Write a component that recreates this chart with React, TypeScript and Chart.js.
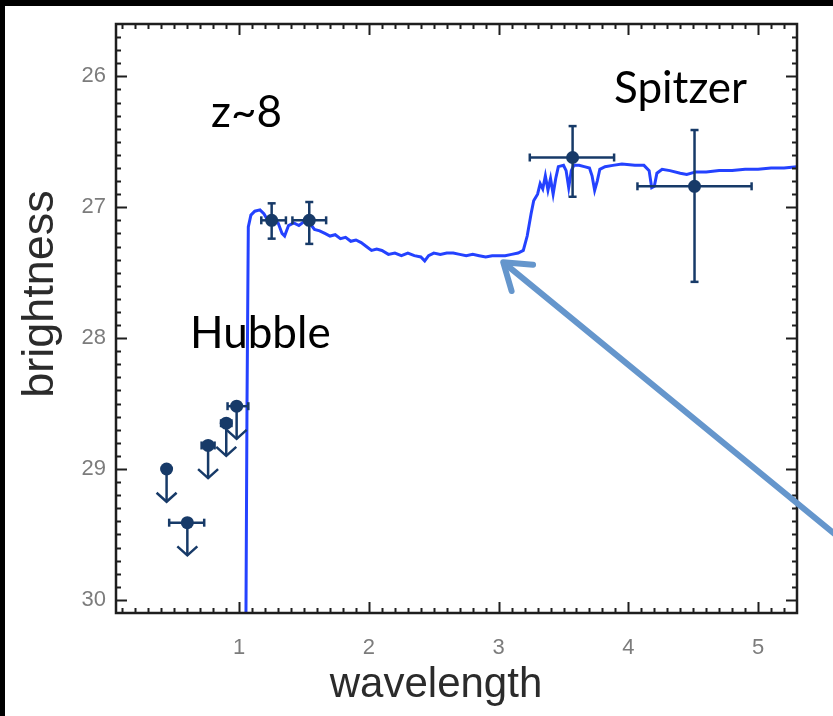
import React, { useEffect, useRef } from "react";
import { Chart, registerables } from "chart.js";

Chart.register(...registerables);

// ---- model spectrum (wavelength, brightness) ----
const modelX = [
  1.05, 1.06, 1.07, 1.09, 1.12, 1.16, 1.19, 1.22, 1.26, 1.3, 1.33, 1.35, 1.38, 1.42, 1.46, 1.5, 1.55, 1.58, 1.62,
  1.66, 1.7, 1.74, 1.78, 1.82, 1.86, 1.9, 1.94, 1.98, 2.02, 2.06, 2.1, 2.15, 2.2, 2.25, 2.3, 2.35, 2.4, 2.43, 2.46,
  2.5, 2.55, 2.6, 2.65, 2.7, 2.75, 2.8, 2.85, 2.9, 2.95, 3.0, 3.05, 3.1, 3.15, 3.19, 3.22, 3.25, 3.27, 3.3, 3.32,
  3.34, 3.36, 3.38, 3.4, 3.42, 3.44, 3.46, 3.5, 3.52, 3.54, 3.56, 3.58, 3.62, 3.66, 3.7, 3.72, 3.74, 3.76, 3.78,
  3.82, 3.88, 3.95, 4.05, 4.12, 4.16, 4.18, 4.2, 4.22, 4.26, 4.32, 4.4, 4.45, 4.52, 4.6, 4.7, 4.8, 4.9, 5.0, 5.1,
  5.2, 5.3,
];
const modelY = [
  30.5, 28.5, 27.15, 27.06, 27.03, 27.02, 27.05, 27.1, 27.08, 27.12, 27.2, 27.22, 27.14, 27.12, 27.14, 27.11, 27.13,
  27.17, 27.18, 27.2, 27.22, 27.21, 27.24, 27.23, 27.26, 27.25, 27.27, 27.3, 27.33, 27.32, 27.33, 27.36, 27.35,
  27.37, 27.35, 27.37, 27.38, 27.41, 27.37, 27.35, 27.36, 27.35, 27.35, 27.36, 27.37, 27.36, 27.37, 27.38, 27.37,
  27.37, 27.37, 27.36, 27.35, 27.33, 27.22, 27.05, 26.95, 26.9, 26.82, 26.86, 26.76, 26.87, 26.78, 26.9, 26.78,
  26.69, 26.68, 26.72, 26.85, 26.72, 26.68, 26.68, 26.69, 26.7, 26.76, 26.87, 26.8, 26.71, 26.69, 26.68, 26.67,
  26.68, 26.68, 26.72, 26.85, 26.84, 26.74, 26.71, 26.72, 26.74, 26.75, 26.73, 26.73, 26.72, 26.72, 26.71, 26.71,
  26.7, 26.7, 26.69,
];

// ---- detections (Hubble + Spitzer) ----
const detX = [1.25, 1.54, 3.57, 4.51];
const detY = [27.1, 27.1, 26.62, 26.84];
const detXLo = [1.17, 1.41, 3.24, 4.07];
const detXHi = [1.36, 1.67, 3.89, 4.95];
const detYLo = [26.97, 26.96, 26.38, 26.41];
const detYHi = [27.24, 27.28, 26.92, 27.57];

// ---- upper limits (non-detections) ----
const limX = [0.44, 0.6, 0.76, 0.9, 0.98];
const limY = [29.0, 29.41, 28.82, 28.65, 28.52];
const limXLo = [0.44, 0.46, 0.71, 0.86, 0.91];
const limXHi = [0.44, 0.73, 0.81, 0.94, 1.07];
const limDepth = [0.25, 0.25, 0.25, 0.25, 0.25];

// ---- axes ----
const xTicks = [1, 2, 3, 4, 5];
const yTicks = [26, 27, 28, 29, 30];
const xRange = [0.05, 5.3];
const yRange = [25.6, 30.1];
const xTitle = "wavelength";
const yTitle = "brightness";
const labels = ["z~8", "Spitzer", "Hubble"];
// annotation arrow: head position in data units
const arrowHead = [3.035, 27.42];
const arrowTail = [5.3, 29.26];

const NAVY = "#173a68";
const BLUE = "#2442ff";

const bgPlugin = {
  id: "bg",
  beforeDraw(chart: any) {
    const c = chart.ctx;
    c.save();
    c.fillStyle = "#000";
    c.fillRect(0, 0, chart.width, chart.height);
    c.fillStyle = "#fff";
    c.fillRect(5, 6, chart.width - 5, chart.height - 6);
    c.restore();
  },
};

const errPlugin = {
  id: "errs",
  afterDatasetDraw(chart: any, args: any) {
    if (args.index !== 0) return;
    const c = chart.ctx;
    const xs = chart.scales.x;
    const ys = chart.scales.y;
    c.save();
    c.strokeStyle = NAVY;
    c.lineWidth = 2.5;
    c.lineCap = "butt";
    const cap = 4;
    const line = (x1: number, y1: number, x2: number, y2: number) => {
      c.beginPath();
      c.moveTo(x1, y1);
      c.lineTo(x2, y2);
      c.stroke();
    };
    detX.forEach((x, i) => {
      const px = xs.getPixelForValue(x);
      const py = ys.getPixelForValue(detY[i]);
      const xl = xs.getPixelForValue(detXLo[i]);
      const xh = xs.getPixelForValue(detXHi[i]);
      const yl = ys.getPixelForValue(detYLo[i]);
      const yh = ys.getPixelForValue(detYHi[i]);
      line(xl, py, xh, py);
      line(xl, py - cap, xl, py + cap);
      line(xh, py - cap, xh, py + cap);
      line(px, yl, px, yh);
      line(px - cap, yl, px + cap, yl);
      line(px - cap, yh, px + cap, yh);
    });
    limX.forEach((x, i) => {
      const px = xs.getPixelForValue(x);
      const py = ys.getPixelForValue(limY[i]);
      const xl = xs.getPixelForValue(limXLo[i]);
      const xh = xs.getPixelForValue(limXHi[i]);
      const pe = ys.getPixelForValue(limY[i] + limDepth[i]);
      if (xh - xl > 1) {
        line(xl, py, xh, py);
        line(xl, py - cap, xl, py + cap);
        line(xh, py - cap, xh, py + cap);
      }
      line(px, py, px, pe);
      c.beginPath();
      c.moveTo(px - 10, pe - 9);
      c.lineTo(px, pe);
      c.lineTo(px + 10, pe - 9);
      c.stroke();
    });
    c.restore();
  },
};

const framePlugin = {
  id: "frame",
  afterDraw(chart: any) {
    const c = chart.ctx;
    const a = chart.chartArea;
    const xs = chart.scales.x;
    const ys = chart.scales.y;
    c.save();
    c.strokeStyle = "#1e1e1e";
    c.lineWidth = 2;
    for (let k = 1; k <= 53; k++) {
      const v = k / 10;
      if (v <= xRange[0] || v >= xRange[1]) continue;
      const major = k % 10 === 0;
      const len = major ? 11 : 5;
      const px = Math.round(xs.getPixelForValue(v)) + 0.5;
      c.beginPath();
      c.moveTo(px, a.bottom);
      c.lineTo(px, a.bottom - len);
      c.moveTo(px, a.top);
      c.lineTo(px, a.top + len);
      c.stroke();
    }
    for (let k = 256; k <= 301; k++) {
      const v = k / 10;
      if (v <= yRange[0] || v >= yRange[1]) continue;
      const major = k % 10 === 0;
      const len = major ? 11 : 5;
      const py = Math.round(ys.getPixelForValue(v)) + 0.5;
      c.beginPath();
      c.moveTo(a.left, py);
      c.lineTo(a.left + len, py);
      c.moveTo(a.right, py);
      c.lineTo(a.right - len, py);
      c.stroke();
    }
    c.lineWidth = 2.5;
    c.strokeRect(a.left, a.top, a.right - a.left, a.bottom - a.top);

    // axis titles
    c.fillStyle = "#2b2b2b";
    c.textAlign = "center";
    c.textBaseline = "alphabetic";
    c.font = "42px 'Liberation Sans', Arial, sans-serif";
    c.fillText(xTitle, 436, 697);
    c.save();
    c.translate(53, 294);
    c.rotate(-Math.PI / 2);
    c.font = "45px 'Liberation Sans', Arial, sans-serif";
    c.fillText(yTitle, 0, 0);
    c.restore();

    // annotations
    c.fillStyle = "#000";
    c.font = "44px Lato, 'Open Sans', sans-serif";
    c.textAlign = "left";
    c.fillText(labels[0], 211, 127);
    c.fillText(labels[1], 614, 103);
    c.fillText(labels[2], 190, 348);

    // pointer arrow
    const hx = xs.getPixelForValue(arrowHead[0]);
    const hy = ys.getPixelForValue(arrowHead[1]);
    const tx0 = xs.getPixelForValue(arrowTail[0]);
    const ty0 = ys.getPixelForValue(arrowTail[1]);
    const dx = tx0 - hx;
    const dy = ty0 - hy;
    const t = (chart.width + 10 - hx) / dx;
    const tx = hx + dx * t;
    const ty = hy + dy * t;
    const ang = Math.atan2(dy, dx);
    c.strokeStyle = "#6596cc";
    c.lineWidth = 6;
    c.lineCap = "round";
    c.beginPath();
    c.moveTo(hx + 3 * Math.cos(ang), hy + 3 * Math.sin(ang));
    c.lineTo(tx, ty);
    c.stroke();
    const hl = 30;
    c.beginPath();
    c.moveTo(hx + hl * Math.cos(ang - 0.6), hy + hl * Math.sin(ang - 0.6));
    c.lineTo(hx, hy);
    c.lineTo(hx + hl * Math.cos(ang + 0.6), hy + hl * Math.sin(ang + 0.6));
    c.lineJoin = "round";
    c.stroke();
    c.restore();
  },
};

export default function App() {
  const ref = useRef<HTMLCanvasElement>(null);
  useEffect(() => {
    const chart = new Chart(ref.current as HTMLCanvasElement, {
      type: "scatter",
      data: {
        datasets: [
          {
            label: "model",
            data: modelX.map((x, i) => ({ x, y: modelY[i] })),
            showLine: true,
            borderColor: BLUE,
            borderWidth: 3,
            pointRadius: 0,
            tension: 0,
            order: 3,
          },
          {
            label: "detections",
            data: detX.map((x, i) => ({ x, y: detY[i] })),
            backgroundColor: NAVY,
            borderColor: NAVY,
            borderWidth: 0,
            pointRadius: 6.5,
            order: 1,
          },
          {
            label: "upper limits",
            data: limX.map((x, i) => ({ x, y: limY[i] })),
            backgroundColor: NAVY,
            borderColor: NAVY,
            borderWidth: 0,
            pointRadius: 6.5,
            order: 1,
          },
        ],
      } as any,
      options: {
        responsive: false,
        animation: false,
        devicePixelRatio: 1,
        layout: { padding: { left: 0, top: 24, right: 36, bottom: 0 } },
        plugins: { legend: { display: false }, tooltip: { enabled: false } },
        scales: {
          x: {
            type: "linear",
            min: xRange[0],
            max: xRange[1],
            grid: { display: false, drawTicks: false },
            border: { display: false },
            afterBuildTicks: (s: any) => {
              s.ticks = xTicks.map((v) => ({ value: v }));
            },
            afterFit: (s: any) => {
              s.height = 103;
            },
            ticks: {
              padding: 22,
              color: "#7c7c7c",
              font: { family: "'Liberation Sans', Arial, sans-serif", size: 22 },
              maxRotation: 0,
            },
          },
          y: {
            type: "linear",
            reverse: true,
            min: yRange[0],
            max: yRange[1],
            grid: { display: false, drawTicks: false },
            border: { display: false },
            afterBuildTicks: (s: any) => {
              s.ticks = yTicks.map((v) => ({ value: v }));
            },
            afterFit: (s: any) => {
              s.width = 116;
            },
            ticks: {
              padding: 10,
              color: "#7c7c7c",
              font: { family: "'Liberation Sans', Arial, sans-serif", size: 22 },
            },
          },
        },
      } as any,
      plugins: [bgPlugin, errPlugin, framePlugin],
    });
    return () => chart.destroy();
  }, []);
  return (
    <div style={{ position: "fixed", left: 0, top: 0, width: 833, height: 716, background: "#000" }}>
      <canvas ref={ref} width={833} height={716} style={{ display: "block", width: 833, height: 716 }} />
    </div>
  );
}
